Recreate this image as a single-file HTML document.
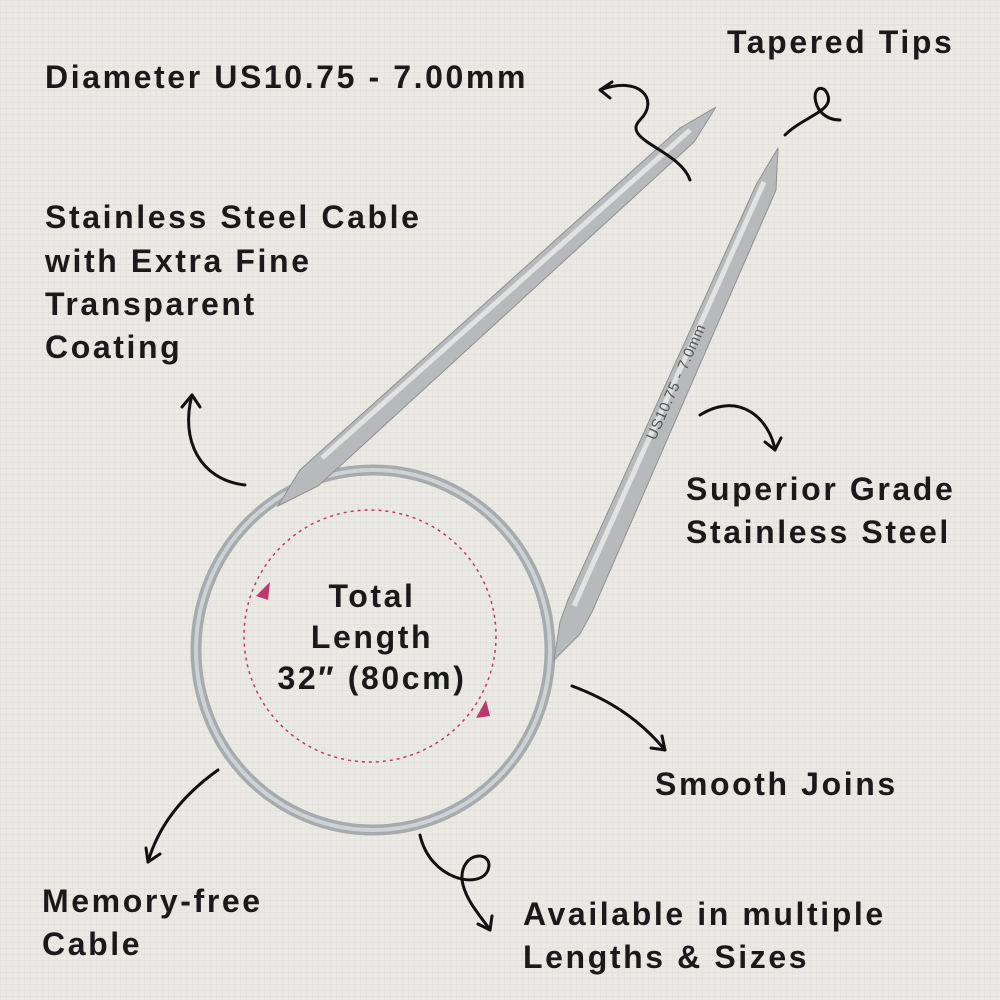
<!DOCTYPE html>
<html><head><meta charset="utf-8"><style>
html,body{margin:0;padding:0;}
body{width:1000px;height:1000px;overflow:hidden;background:#ebe9e3;}
svg{display:block}
text{font-family:"Liberation Sans",sans-serif;font-weight:bold;font-size:32px;fill:#1a1a1a;letter-spacing:2.6px}
</style></head><body>
<svg width="1000" height="1000" viewBox="0 0 1000 1000">
<defs>
<pattern id="lin" width="6" height="6" patternUnits="userSpaceOnUse">
<rect width="6" height="6" fill="#ebe9e3"/>
<rect width="6" height="1" fill="#e3e1db"/>
<rect width="1" height="6" fill="#e5e3dd"/>
</pattern>
</defs>
<rect width="1000" height="1000" fill="url(#lin)"/>
<!-- cable -->
<ellipse cx="373" cy="650" rx="177" ry="180" fill="none" stroke="#a7abae" stroke-width="11"/>
<ellipse cx="373" cy="650" rx="177" ry="180" fill="none" stroke="#cfd2d4" stroke-width="4"/>
<!-- left needle -->
<polygon points="278,506 300,470 322,450 680,128 716,107 694,142 340,466 318,486" fill="#b7b9bb" stroke="#8e9092" stroke-width="1"/>
<line x1="322" y1="458" x2="690" y2="130" stroke="#e2e2e2" stroke-width="5"/>
<!-- right needle -->
<polygon points="554,660 560,622 568,600 756,185 778,148 776,190 592,612 580,634" fill="#b7b9bb" stroke="#8e9092" stroke-width="1"/>
<line x1="574" y1="606" x2="764" y2="182" stroke="#e2e2e2" stroke-width="5"/>
<text x="648" y="430" transform="rotate(-66 660 430)" style="font-size:15px;font-weight:normal;fill:#555;letter-spacing:0.5px">US10.75 - 7.0mm</text>
<!-- dashed circle -->
<circle cx="370" cy="636" r="126" fill="none" stroke="#c0386b" stroke-width="1.5" stroke-dasharray="3,4"/>
<polygon points="256,596 270,582 268,600" fill="#c0386b"/>
<polygon points="486,700 476,718 490,716" fill="#c0386b"/>
<!-- arrows -->
<g fill="none" stroke="#111" stroke-width="3" stroke-linecap="round">
<path d="M600,90 C640,75 660,100 640,120 C620,140 680,150 690,180"/>
<path d="M600,90 l12,-8 M600,90 l10,8"/>
<path d="M785,135 C805,115 840,110 825,90 C810,80 810,120 840,120"/>
<path d="M245,485 C200,480 180,440 192,395"/>
<path d="M192,395 l-10,12 M192,395 l8,12"/>
<path d="M700,415 C740,390 770,420 775,450"/>
<path d="M775,450 l-10,-8 M775,450 l6,-12"/>
<path d="M572,686 C610,700 640,720 665,750"/>
<path d="M665,750 l-3,-14 M665,750 l-14,-2"/>
<path d="M218,770 C190,790 160,820 148,862"/>
<path d="M148,862 l-2,-14 M148,862 l12,-8"/>
<path d="M420,835 C430,880 480,890 488,870 C495,850 460,850 462,880 C465,900 480,915 490,930"/>
<path d="M490,930 l-12,-6 M490,930 l2,-14"/>
</g>
<!-- text -->
<text x="45" y="88">Diameter US10.75 - 7.00mm</text>
<text x="727" y="53">Tapered Tips</text>
<text x="45" y="228">Stainless Steel Cable</text>
<text x="45" y="272">with Extra Fine</text>
<text x="45" y="315">Transparent</text>
<text x="45" y="358">Coating</text>
<text x="686" y="500">Superior Grade</text>
<text x="686" y="543">Stainless Steel</text>
<text x="372" y="607" text-anchor="middle">Total</text>
<text x="372" y="648" text-anchor="middle">Length</text>
<text x="372" y="689" text-anchor="middle">32″ (80cm)</text>
<text x="655" y="795">Smooth Joins</text>
<text x="42" y="912">Memory-free</text>
<text x="42" y="955">Cable</text>
<text x="523" y="925">Available in multiple</text>
<text x="523" y="968">Lengths &amp; Sizes</text>
</svg>
</body></html>
